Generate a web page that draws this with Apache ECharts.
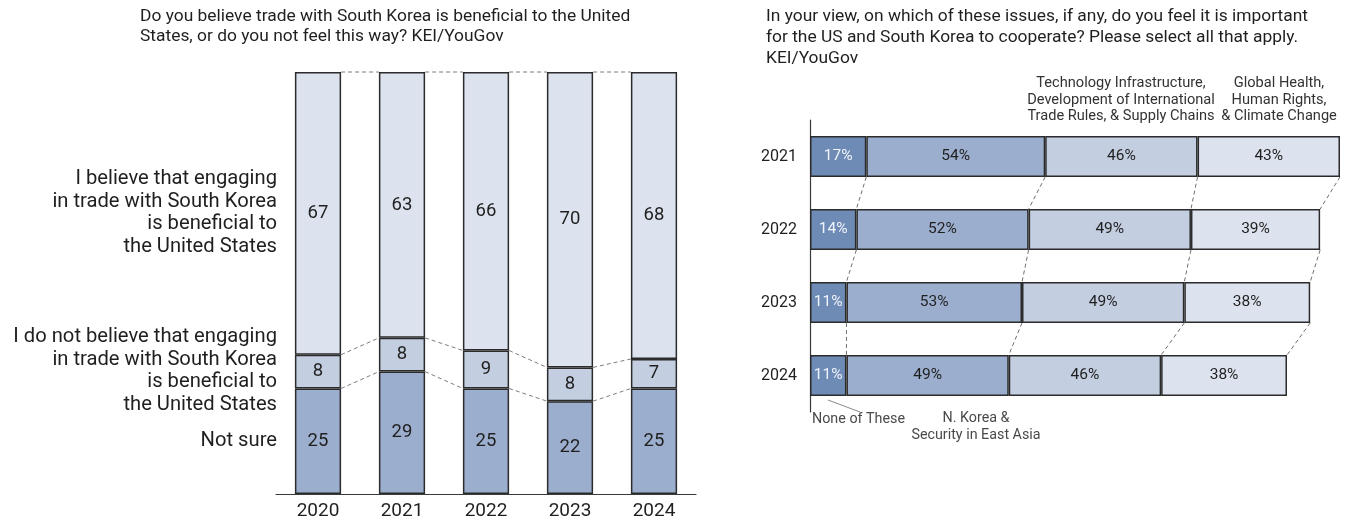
<!DOCTYPE html>
<html>
<head>
<meta charset="utf-8">
<script src="https://cdn.jsdelivr.net/npm/echarts@6/dist/echarts.min.js"></script>
<style>
  html, body { margin: 0; padding: 0; background: #fff; }
  #chart { width: 1348px; height: 525px; }
</style>
</head>
<body>
<div id="chart"></div>
<script>
// Trade with South Korea: share of respondents by answer, per survey year
const years = ['2020', '2021', '2022', '2023', '2024'];
const notSure = [25, 29, 25, 22, 25];
const notBeneficial = [8, 8, 9, 8, 7];
const beneficial = [67, 63, 66, 70, 68];

// Issues on which US–South Korea cooperation is important (%)
const coopYears = ['2021', '2022', '2023', '2024'];
const noneOfThese = [17, 14, 11, 11];
const koreaSecurity = [54, 52, 53, 49];
const techTrade = [46, 49, 49, 46];
const globalHealth = [43, 39, 38, 38];

const FONT = 'Roboto';
const INK = '#1f1f1f';
const EDGE = '#2b2b2b';
const C_DARK = '#6e8bb6';
const C_MID = '#9caecd';
const C_LIGHT = '#c4cee1';
const C_PALE = '#dde3ee';

const LEFT_BAR = 0.55;
const RIGHT_BAR = 0.56;

const chart = echarts.init(document.getElementById('chart'), null, { renderer: 'canvas' });

// Dashed connectors between neighbouring columns at each stack boundary
function leftConnector(params, api) {
  const i = api.value(1);
  const bw = api.size([1, 0])[0] * LEFT_BAR;
  const lv = k => [notSure[k], notSure[k] + notBeneficial[k], notSure[k] + notBeneficial[k] + beneficial[k]];
  const a = lv(i), b = lv(i + 1);
  const children = a.map((va, j) => {
    const p1 = api.coord([i, va]);
    const p2 = api.coord([i + 1, b[j]]);
    return {
      type: 'line',
      shape: { x1: p1[0] + bw / 2, y1: p1[1], x2: p2[0] - bw / 2, y2: p2[1] },
      style: { stroke: '#7d7d7d', lineWidth: 1, lineDash: [4, 3] }
    };
  });
  return { type: 'group', children };
}

// Dashed connectors between neighbouring rows at each cumulative segment end
function rightConnector(params, api) {
  const i = api.value(1);
  const bh = api.size([0, 1])[1] * RIGHT_BAR;
  const cum = k => {
    const s = [noneOfThese[k], koreaSecurity[k], techTrade[k], globalHealth[k]];
    let t = 0;
    return s.map(v => (t += v));
  };
  const a = cum(i), b = cum(i + 1);
  const children = a.map((va, j) => {
    const p1 = api.coord([va, i]);
    const p2 = api.coord([b[j], i + 1]);
    return {
      type: 'line',
      shape: { x1: p1[0], y1: p1[1] + bh / 2, x2: p2[0], y2: p2[1] - bh / 2 },
      style: { stroke: '#6f6f6f', lineWidth: 1, lineDash: [4, 3] }
    };
  });
  return { type: 'group', children };
}

const leftBar = (name, data, color) => ({
  type: 'bar', name, data, stack: 'trade',
  xAxisIndex: 0, yAxisIndex: 0,
  barWidth: (LEFT_BAR * 100) + '%',
  itemStyle: { color, borderColor: EDGE, borderWidth: 1.5 },
  label: { show: true, position: 'inside', color: INK, fontSize: 18.5, fontFamily: FONT },
  emphasis: { disabled: true },
  z: 3
});

const rightBar = (name, data, color, labelColor) => ({
  type: 'bar', name, data, stack: 'coop',
  xAxisIndex: 1, yAxisIndex: 1,
  barWidth: (RIGHT_BAR * 100) + '%',
  itemStyle: { color, borderColor: EDGE, borderWidth: 1.5 },
  label: { show: true, position: 'inside', formatter: '{c}%', color: labelColor, fontSize: 15.5, fontFamily: FONT },
  emphasis: { disabled: true },
  z: 3
});

const option = {
  animation: false,
  backgroundColor: '#ffffff',
  textStyle: { fontFamily: FONT },
  grid: [
    { left: 276, top: 72, width: 420, bottom: 31 },
    { left: 810, top: 120, right: 8, bottom: 113 }
  ],
  xAxis: [
    {
      type: 'category', gridIndex: 0, data: years,
      axisLine: { lineStyle: { color: '#3a3a3a', width: 1.2 } },
      axisTick: { show: false },
      axisLabel: { color: INK, fontSize: 19, margin: 8, fontFamily: FONT }
    },
    { type: 'value', gridIndex: 1, min: 0, max: 160, show: false }
  ],
  yAxis: [
    { type: 'value', gridIndex: 0, min: 0, max: 100, show: false },
    {
      type: 'category', gridIndex: 1, data: coopYears, inverse: true,
      axisLine: { lineStyle: { color: '#3a3a3a', width: 1.2 } },
      axisTick: { show: false },
      axisLabel: { color: INK, fontSize: 16, margin: 13, fontFamily: FONT }
    }
  ],
  series: [
    leftBar('Not sure', notSure, C_MID),
    leftBar('Not beneficial', notBeneficial, C_LIGHT),
    leftBar('Beneficial', beneficial, C_PALE),
    {
      type: 'custom', xAxisIndex: 0, yAxisIndex: 0,
      data: years.slice(0, -1).map((y, i) => [0, i]),
      encode: { x: 1, y: 0 },
      renderItem: leftConnector, silent: true, z: 2
    },
    rightBar('None of These', noneOfThese, C_DARK, '#f0f4fa'),
    rightBar('N. Korea & Security in East Asia', koreaSecurity, C_MID, INK),
    rightBar('Technology Infrastructure, Development of International Trade Rules, & Supply Chains', techTrade, C_LIGHT, INK),
    rightBar('Global Health, Human Rights, & Climate Change', globalHealth, C_PALE, INK),
    {
      type: 'custom', xAxisIndex: 1, yAxisIndex: 1,
      data: coopYears.slice(0, -1).map((y, i) => [0, i]),
      encode: { x: 0, y: 1 },
      renderItem: rightConnector, silent: true, z: 2
    }
  ],
  graphic: [
    {
      type: 'text', left: 140, top: 6,
      style: {
        text: 'Do you believe trade with South Korea is beneficial to the United\nStates, or do you not feel this way? KEI/YouGov',
        fontSize: 17.4, lineHeight: 20.5, fill: INK, fontFamily: FONT
      }
    },
    {
      type: 'text', left: 766, top: 6,
      style: {
        text: 'In your view, on which of these issues, if any, do you feel it is important\nfor the US and South Korea to cooperate? Please select all that apply.\nKEI/YouGov',
        fontSize: 17.4, lineHeight: 21, fill: INK, fontFamily: FONT
      }
    },
    // Row labels for the stacked columns
    {
      type: 'text', x: 277, y: 213,
      style: {
        text: 'I believe that engaging\nin trade with South Korea\nis beneficial to\nthe United States',
        align: 'right', verticalAlign: 'middle', fontSize: 20.2, lineHeight: 22.4, fill: INK, fontFamily: FONT
      }
    },
    {
      type: 'text', x: 277, y: 371,
      style: {
        text: 'I do not believe that engaging\nin trade with South Korea\nis beneficial to\nthe United States',
        align: 'right', verticalAlign: 'middle', fontSize: 20.2, lineHeight: 22.4, fill: INK, fontFamily: FONT
      }
    },
    {
      type: 'text', x: 277, y: 441,
      style: { text: 'Not sure', align: 'right', verticalAlign: 'middle', fontSize: 20.2, fill: INK, fontFamily: FONT }
    },
    // Segment captions for the horizontal bars
    {
      type: 'text', x: 1121, y: 100,
      style: {
        text: 'Technology Infrastructure,\nDevelopment of International\nTrade Rules, & Supply Chains',
        align: 'center', verticalAlign: 'middle', fontSize: 14.6, lineHeight: 16.5, fill: '#333', fontFamily: FONT
      }
    },
    {
      type: 'text', x: 1279, y: 100,
      style: {
        text: 'Global Health,\nHuman Rights,\n& Climate Change',
        align: 'center', verticalAlign: 'middle', fontSize: 14.6, lineHeight: 16.5, fill: '#333', fontFamily: FONT
      }
    },
    {
      type: 'text', x: 812, y: 419,
      style: { text: 'None of These', align: 'left', verticalAlign: 'middle', fontSize: 14.3, fill: '#4a4a4a', fontFamily: FONT }
    },
    {
      type: 'text', x: 976, y: 427,
      style: {
        text: 'N. Korea &\nSecurity in East Asia',
        align: 'center', verticalAlign: 'middle', fontSize: 14.3, lineHeight: 16.5, fill: '#4a4a4a', fontFamily: FONT
      }
    },
    {
      type: 'line',
      shape: { x1: 828, y1: 400, x2: 860, y2: 412 },
      style: { stroke: '#8a8a8a', lineWidth: 1 }
    }
  ]
};

chart.setOption(option);
</script>
</body>
</html>
